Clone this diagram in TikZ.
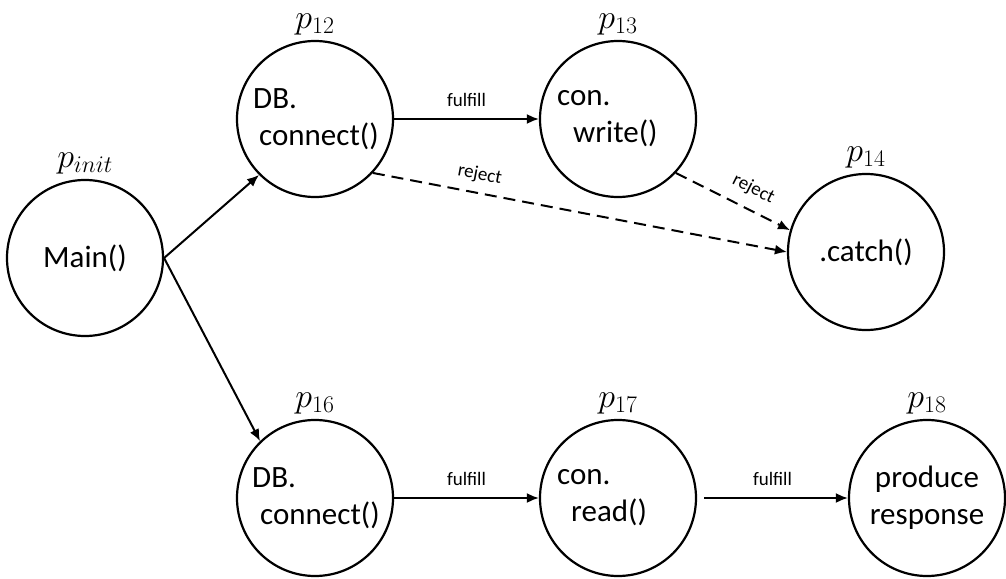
\RequirePackage{fix-cm}
\documentclass[tikz,border=0pt]{standalone}
\usepackage[no-math]{fontspec}
\setmainfont{Carlito}
\usetikzlibrary{arrows.meta,positioning}
\begin{document}
\begin{tikzpicture}[x=1pt,y=-1pt,
  proc/.style={circle,draw,line width=2.2pt,minimum size=156pt,inner sep=0pt},
  txt/.style={font=\fontsize{31}{37}\selectfont,inner sep=0pt,align=left},
  lbl/.style={font=\fontsize{34}{40}\selectfont,inner sep=0pt},
  elbl/.style={font=\fontsize{19}{23}\selectfont,inner sep=0pt},
  arr/.style={line width=2pt,-{Latex[length=12pt,width=10pt]}},
  rej/.style={arr,dash pattern=on 12pt off 7pt}]
\useasboundingbox (0,0) rectangle (1006,578);
% circles
\node[proc] (m) at (85,258) {};
\node[proc] (c12) at (315,119) {};
\node[proc] (c13) at (618,119) {};
\node[proc] (c14) at (866,252) {};
\node[proc] (c16) at (315,498) {};
\node[proc] (c17) at (618,498) {};
\node[proc] (c18) at (927,498) {};
% texts
\node[txt] (tm) at (m) {Main()};
\node[txt,anchor=west] (t12) at (253,119) {DB.\\\hspace*{6pt}connect()};
\node[txt,anchor=west] (t13) at (557,119) {con.\\\hspace*{16pt}write()};
\node[txt] (t14) at (c14) {.catch()};
\node[txt,anchor=west] (t16) at (252,498) {DB.\\\hspace*{8pt}connect()};
\node[txt,anchor=west] (t17) at (557,498) {con.\\\hspace*{14pt}read()};
\node[txt,align=center] (t18) at (c18) {produce\\response};
% labels
\node[lbl,above=5pt of m] (lm) {$p_{init}$};
\node[lbl,above=5pt of c12] (l12) {$p_{12}$};
\node[lbl,above=5pt of c13] (l13) {$p_{13}$};
\node[lbl,above=5pt of c14] (l14) {$p_{14}$};
\node[lbl,above=5pt of c16] (l16) {$p_{16}$};
\node[lbl,above=5pt of c17] (l17) {$p_{17}$};
\node[lbl,above=5pt of c18] (l18) {$p_{18}$};
% edges
\draw[arr] (m.east) -- (c12.225);
\draw[arr] (m.east) -- (c16.134);
\draw[arr] (c12.east) -- node[elbl,above=11pt] (f1) {fulfill} (c13.west);
\draw[rej] (c12.-43) -- node[elbl,sloped,above=9pt,pos=0.25] (r1) {reject} (c14.west);
\draw[rej] (c13.-43) -- node[elbl,sloped,above=11pt,pos=0.6] (r2) {reject} (c14.164);
\draw[arr] (c16.east) -- node[elbl,above=11pt] (f2) {fulfill} (c17.west);
\draw[arr,shorten <=7pt] (c17.east) -- node[elbl,above=11pt] (f3) {fulfill} (c18.west);
\end{tikzpicture}
\end{document}
